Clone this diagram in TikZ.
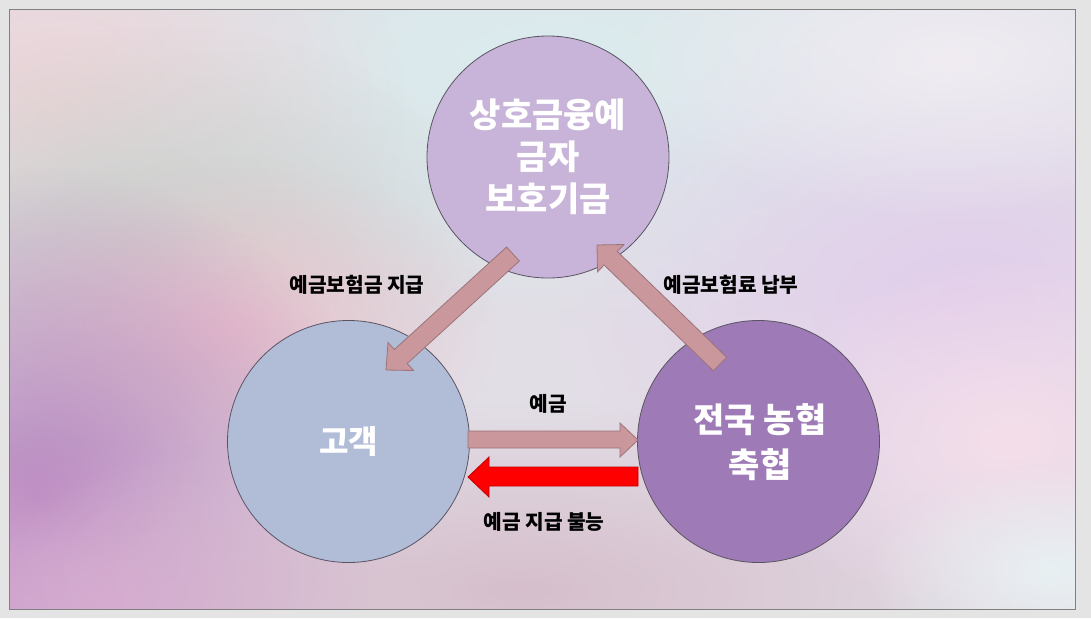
\documentclass[tikz,border=0pt]{standalone}
\usepackage{fontspec}
\newfontfamily\kr{Noto Sans CJK KR}[BoldFont={Noto Sans CJK KR Black}]
\usetikzlibrary{fadings}
\definecolor{outsidec}{HTML}{E4E4E4}
\definecolor{basec}{HTML}{E2DEE6}
\definecolor{topc}{HTML}{C8B4D8}
\definecolor{leftc}{HTML}{B1BCD7}
\definecolor{rightc}{HTML}{9E7BB6}
\definecolor{pinkarrow}{HTML}{C9979C}
\definecolor{pinkedge}{HTML}{9A7479}
\definecolor{redarrow}{HTML}{FF0000}
\definecolor{rededge}{HTML}{C00000}
\definecolor{circedge}{HTML}{5A5462}
\definecolor{bgA}{RGB}{218,236,238}
\definecolor{bgB}{RGB}{238,212,216}
\definecolor{bgC}{RGB}{200,210,206}
\definecolor{bgD}{RGB}{236,196,206}
\definecolor{bgE}{RGB}{182,134,190}
\definecolor{bgF}{RGB}{214,166,210}
\definecolor{bgG}{RGB}{214,190,204}
\definecolor{bgH}{RGB}{226,206,236}
\definecolor{bgI}{RGB}{244,222,234}
\definecolor{bgJ}{RGB}{232,240,242}
\definecolor{bgK}{RGB}{240,236,242}
\tikzfading[name=softblob, inner color=transparent!0, outer color=transparent!100]
\tikzset{
  blob/.style={fill=#1, path fading=softblob},
  bubble/.style={circle, draw=circedge, line width=0.6pt, inner sep=0pt, minimum size=181.5pt},
  title/.style={font=\kr\bfseries\fontsize{25.5}{31.5}\selectfont, text=white, align=center, inner sep=0pt},
  lbl/.style={font=\kr\bfseries\fontsize{15.2}{18}\selectfont, text=black, inner sep=1pt},
  pinkblock/.style={fill=pinkarrow, draw=pinkedge, line width=0.6pt, line join=miter},
  redblock/.style={fill=redarrow, draw=rededge, line width=0.6pt, line join=miter},
}
\begin{document}
\begin{tikzpicture}[x=0.75pt, y=-0.75pt]
\useasboundingbox (0,0) rectangle (1091,618);
\fill[outsidec] (0,0) rectangle (1091,618);
% slide background
\begin{scope}
\clip (9,9) rectangle (1075,609);
\fill[basec] (9,9) rectangle (1075,609);
\fill[blob=bgA] (560,60) ellipse (520pt and 200pt);
\fill[blob=bgB] (60,110) ellipse (260pt and 200pt);
\fill[blob=bgC] (160,240) ellipse (260pt and 160pt);
\fill[blob=bgD] (230,330) ellipse (200pt and 130pt);
\fill[blob=bgE] (40,500) ellipse (260pt and 250pt);
\fill[blob=bgF] (110,600) ellipse (240pt and 120pt);
\fill[blob=bgG] (520,590) ellipse (420pt and 140pt);
\fill[blob=bgH] (960,300) ellipse (300pt and 220pt);
\fill[blob=bgI] (1010,440) ellipse (200pt and 140pt);
\fill[blob=bgJ] (1050,570) ellipse (140pt and 80pt);
\fill[blob=bgK] (950,60) ellipse (260pt and 120pt);
\end{scope}
\draw[gray, line width=0.5pt] (9,9) rectangle (1075,609);

% circles
\node[bubble, fill=topc] (fund) at (548,157) {};
\node[bubble, fill=leftc] (cust) at (348.5,441.5) {};
\node[bubble, fill=rightc] (nh) at (758.5,441.5) {};

\node[title] (fundtxt) at (fund.center) {상호금융예\\금자\\보호기금};
\node[title, font=\kr\bfseries\fontsize{24}{31.5}\selectfont] (custtxt) at (cust.center) {고객};
\node[title, font=\kr\bfseries\fontsize{25.5}{33.75}\selectfont] (nhtxt) at (760,442) {전국 농협\\축협};

% diagonal arrow: fund -> customer
\draw[pinkblock] (506.6,247.0) -- (394.4,349.5) -- (388.0,342.5) -- (386,370)
  -- (413.6,370.5) -- (407.2,363.5) -- (519.4,261.0) -- cycle;
% diagonal arrow: nonghyup -> fund
\draw[pinkblock] (726.6,357.2) -- (617.3,251.4) -- (623.9,244.5) -- (597,245)
  -- (597.5,271.9) -- (604.1,265.0) -- (713.4,370.8) -- cycle;
% horizontal arrow: customer -> nonghyup
\draw[pinkblock] (468,431) -- (620,431) -- (620,423) -- (638,440) -- (620,457)
  -- (620,448) -- (468,448) -- cycle;
% horizontal red arrow: nonghyup -> customer
\draw[redblock] (638,467) -- (489,467) -- (489,457) -- (468,477) -- (489,497)
  -- (489,486) -- (638,486) -- cycle;

% labels
\node[lbl] (l1) at (357,285) {예금보험금 지급};
\node[lbl] (l2) at (731,285) {예금보험료 납부};
\node[lbl] (l3) at (548,404) {예금};
\node[lbl] (l4) at (544,522) {예금 지급 불능};
\end{tikzpicture}
\end{document}
